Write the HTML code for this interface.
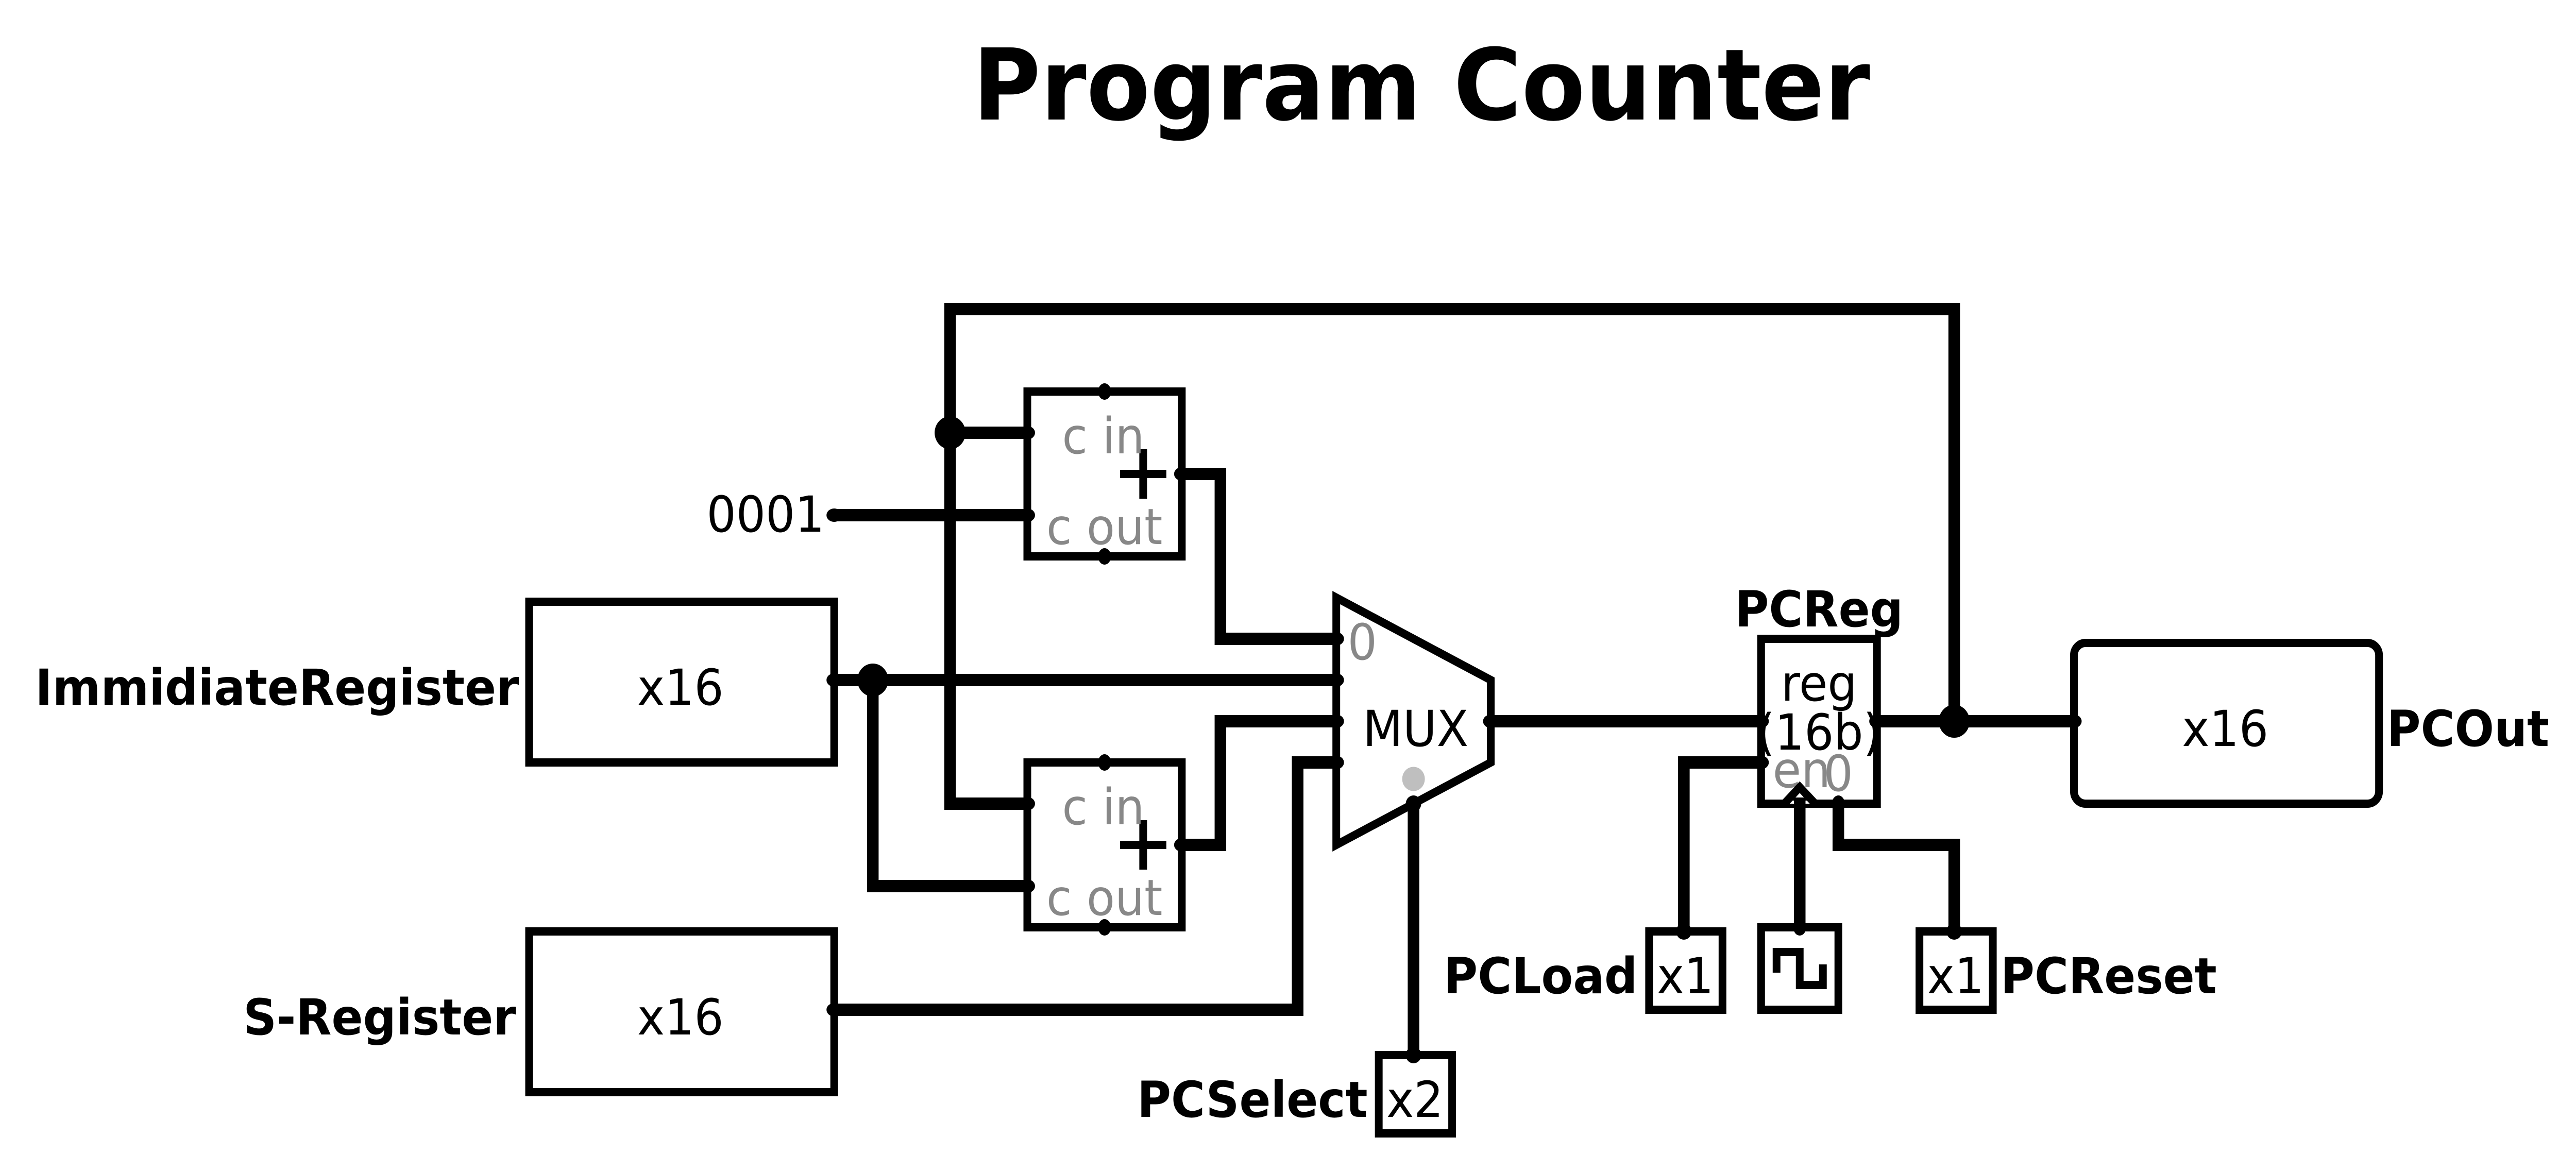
<!DOCTYPE html>
<html><head><meta charset="utf-8"><title>Program Counter</title>
<style>
html,body{margin:0;padding:0;background:#fff;width:100%;height:100%;overflow:hidden}
svg{display:block;width:100vw;height:100vh}
text{font-family:"DejaVu Sans","Liberation Sans",sans-serif;font-size:96px;fill:#000}
.b{font-weight:bold}
.g{fill:#888}
.m{text-anchor:middle}
.e{text-anchor:end}
.w{fill:none;stroke:#000;stroke-width:24;stroke-linejoin:miter}
.s{fill:#fff;stroke:#000;stroke-width:16;stroke-linejoin:miter}
.l{fill:none;stroke:#000;stroke-width:16;stroke-linejoin:miter}
</style></head><body>
<svg viewBox="0 0 5336 2240" preserveAspectRatio="none" xmlns="http://www.w3.org/2000/svg">
<rect width="5336" height="2240" fill="#fff"/>
<text class="b" x="2015" y="232" style="font-size:192px">Program Counter</text>

<!-- wires -->
<g class="w">
<path d="M3888 1400H4296"/>
<path d="M4048 1400V600H1968V1560H2128"/>
<path d="M1968 840H2128"/>
<path d="M1728 1000H2128"/>
<path d="M2448 920H2528V1240H2768"/>
<path d="M1728 1320H2768"/>
<path d="M1808 1320V1720H2128"/>
<path d="M2448 1640H2528V1400H2768"/>
<path d="M1728 1960H2688V1480H2768"/>
<path d="M3088 1400H3648"/>
<path d="M2928 1560V2048"/>
<path d="M3648 1480H3488V1808"/>
<path d="M3728 1560V1800"/>
<path d="M3808 1560V1640H4048V1808"/>
</g>

<!-- boxes -->
<rect class="s" x="1096" y="1168" width="632" height="312"/>
<rect class="s" x="1096" y="1808" width="632" height="312"/>
<rect class="s" x="2128" y="760" width="320" height="320"/>
<rect class="s" x="2128" y="1480" width="320" height="320"/>
<path class="s" d="M2768 1160L3088 1320V1480L2768 1640Z"/>
<rect class="s" x="3648" y="1240" width="240" height="320"/>
<rect class="s" x="4296" y="1248" width="632" height="312" rx="24" ry="24"/>
<rect class="s" x="2856" y="2048" width="152" height="152"/>
<rect class="s" x="3416" y="1808" width="152" height="152"/>
<rect class="s" x="3648" y="1800" width="160" height="160"/>
<rect class="s" x="3976" y="1808" width="152" height="152"/>
<path class="l" d="M3680 1888V1848H3728V1912H3776V1872"/>
<path class="l" d="M2320 920H2416M2368 872V968"/>
<path class="l" d="M2320 1640H2416M2368 1592V1688"/>

<text class="g" x="3672" y="1528">en</text>
<text class="g m" x="3808" y="1535">0</text>

<path class="s" d="M3696 1560L3728 1528L3760 1560"/>
<rect x="3716" y="1548" width="24" height="50" fill="#000"/>
<rect x="3708" y="1548" width="40" height="6" fill="#000"/>

<!-- dots -->
<g fill="#000">
<circle cx="1968" cy="840" r="32"/>
<circle cx="1808" cy="1320" r="32"/>
<circle cx="4048" cy="1400" r="32"/>
<ellipse cx="1728" cy="1000" rx="16" ry="13"/>
<ellipse cx="1728" cy="1320" rx="16" ry="13"/>
<ellipse cx="1728" cy="1960" rx="16" ry="13"/>
<ellipse cx="2288" cy="760" rx="13.3" ry="16"/>
<ellipse cx="2288" cy="1080" rx="13.3" ry="16"/>
<ellipse cx="2128" cy="840" rx="16" ry="13"/>
<ellipse cx="2128" cy="1000" rx="16" ry="13"/>
<ellipse cx="2448" cy="920" rx="16" ry="13"/>
<ellipse cx="2288" cy="1480" rx="13.3" ry="16"/>
<ellipse cx="2288" cy="1800" rx="13.3" ry="16"/>
<ellipse cx="2128" cy="1560" rx="16" ry="13"/>
<ellipse cx="2128" cy="1720" rx="16" ry="13"/>
<ellipse cx="2448" cy="1640" rx="16" ry="13"/>
<ellipse cx="2768" cy="1240" rx="16" ry="13"/>
<ellipse cx="2768" cy="1320" rx="16" ry="13"/>
<ellipse cx="2768" cy="1400" rx="16" ry="13"/>
<ellipse cx="2768" cy="1480" rx="16" ry="13"/>
<ellipse cx="3088" cy="1400" rx="16" ry="13"/>
<circle cx="2928" cy="1560" r="16"/>
<circle cx="2928" cy="2048" r="16"/>
<ellipse cx="3648" cy="1400" rx="16" ry="13"/>
<ellipse cx="3648" cy="1480" rx="16" ry="13"/>
<ellipse cx="3888" cy="1400" rx="16" ry="13"/>
<ellipse cx="3808" cy="1560" rx="13.3" ry="16"/>
<ellipse cx="3728" cy="1800" rx="13.3" ry="16"/>
<circle cx="3488" cy="1808" r="16"/>
<circle cx="4048" cy="1808" r="16"/>
<ellipse cx="4296" cy="1400" rx="16" ry="13"/>
</g>
<circle cx="2928" cy="1512" r="23.5" fill="#bfbfbf"/>

<!-- text -->
<text x="1320" y="1368">x16</text>
<text x="1320" y="2008">x16</text>
<text x="4520" y="1448">x16</text>
<text class="e" x="1708" y="1032">0001</text>
<text class="g" x="2200" y="880">c in</text>
<text class="g" x="2167.5" y="1056">c out</text>
<text class="g" x="2200" y="1600">c in</text>
<text class="g" x="2167.5" y="1776">c out</text>
<text x="2823" y="1448">MUX</text>
<text class="g m" x="2822" y="1280">0</text>
<text class="m" x="3768" y="1360">reg</text>
<text class="m" x="3768" y="1455">(16b)</text>
<text x="2872" y="2168">x2</text>
<text x="3432" y="1928">x1</text>
<text x="3992" y="1928">x1</text>
<text class="b m" x="3768" y="1216">PCReg</text>
<text class="b e" x="1075" y="1368">ImmidiateRegister</text>
<text class="b e" x="1069" y="2008">S-Register</text>
<text class="b e" x="2833" y="2168">PCSelect</text>
<text class="b e" x="3392" y="1928">PCLoad</text>
<text class="b" x="4144" y="1928">PCReset</text>
<text class="b" x="4944" y="1448">PCOut</text>
</svg>
</body></html>
